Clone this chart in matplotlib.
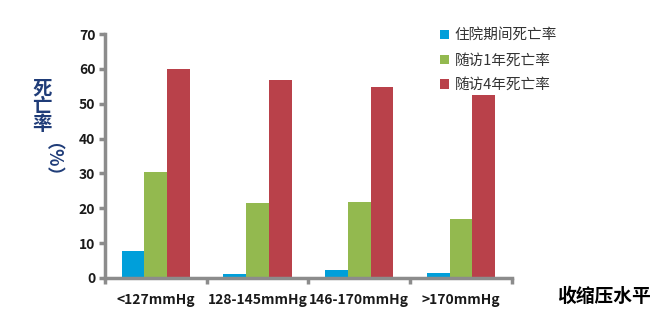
import matplotlib
matplotlib.use("Agg")
import matplotlib.pyplot as plt
import numpy as np

plt.rcParams["font.family"] = ["Noto Sans CJK SC", "DejaVu Sans"]

categories = ["<127mmHg", "128-145mmHg", "146-170mmHg", ">170mmHg"]
series_names = ["住院期间死亡率", "随访1年死亡率", "随访4年死亡率"]
in_hospital = [7.8, 1.1, 2.4, 1.4]
one_year = [30.4, 21.6, 21.8, 16.9]
four_year = [59.9, 56.7, 54.8, 52.6]
colors = ["#009FDA", "#93B94F", "#B9414A"]

fig = plt.figure(figsize=(6.7, 3.24), dpi=100)
ax = fig.add_axes([0.1567, 0.142, 0.607, 0.753])

x = np.arange(len(categories))
w = 0.223
for k, vals in enumerate([in_hospital, one_year, four_year]):
    ax.bar(x + (k - 1) * w, vals, w, color=colors[k], label=series_names[k])

ax.set_xlim(-0.5, len(categories) - 0.5)
ax.set_ylim(0, 70)
ax.set_yticks(range(0, 71, 10))
ax.set_xticks(np.arange(-0.5, len(categories), 1.0))
ax.set_xticklabels([])
ax.tick_params(axis="x", length=4, width=2.5, color="#8c8c8c", direction="out")
ax.tick_params(axis="y", length=4, width=2.5, color="#8c8c8c", direction="out", pad=3)
for lbl in ax.get_yticklabels():
    lbl.set_fontweight("bold")
    lbl.set_fontsize(10)
    lbl.set_color("#1a1a1a")
for i, c in enumerate(categories):
    ax.text(i, -6.3, c, ha="center", va="center", fontsize=10, fontweight="bold", color="#1a1a1a")

for s in ["top", "right"]:
    ax.spines[s].set_visible(False)
for s in ["left", "bottom"]:
    ax.spines[s].set_color("#8c8c8c")
    ax.spines[s].set_linewidth(2.5)

# y label: stacked characters plus rotated (%)
fig.text(0.063, 0.67, "死\n亡\n率", ha="center", va="center", fontsize=14, fontweight="bold",
         color="#1F3C78", linespacing=0.9)
fig.text(0.063, 0.48, "（%）", ha="center", va="center", fontsize=13, fontweight="bold",
         color="#1F3C78", rotation=-90)

fig.text(0.902, 0.086, "收缩压水平", ha="center", va="center", fontsize=13.5, fontweight="bold", color="black")

leg = ax.legend(loc="upper left", bbox_to_anchor=(0.792, 1.075), frameon=False, fontsize=10.5,
                handlelength=0.6, handleheight=0.6, handletextpad=0.4, labelspacing=0.73)
for t in leg.get_texts():
    t.set_color("#333333")

fig.savefig("out.png", dpi=100)
